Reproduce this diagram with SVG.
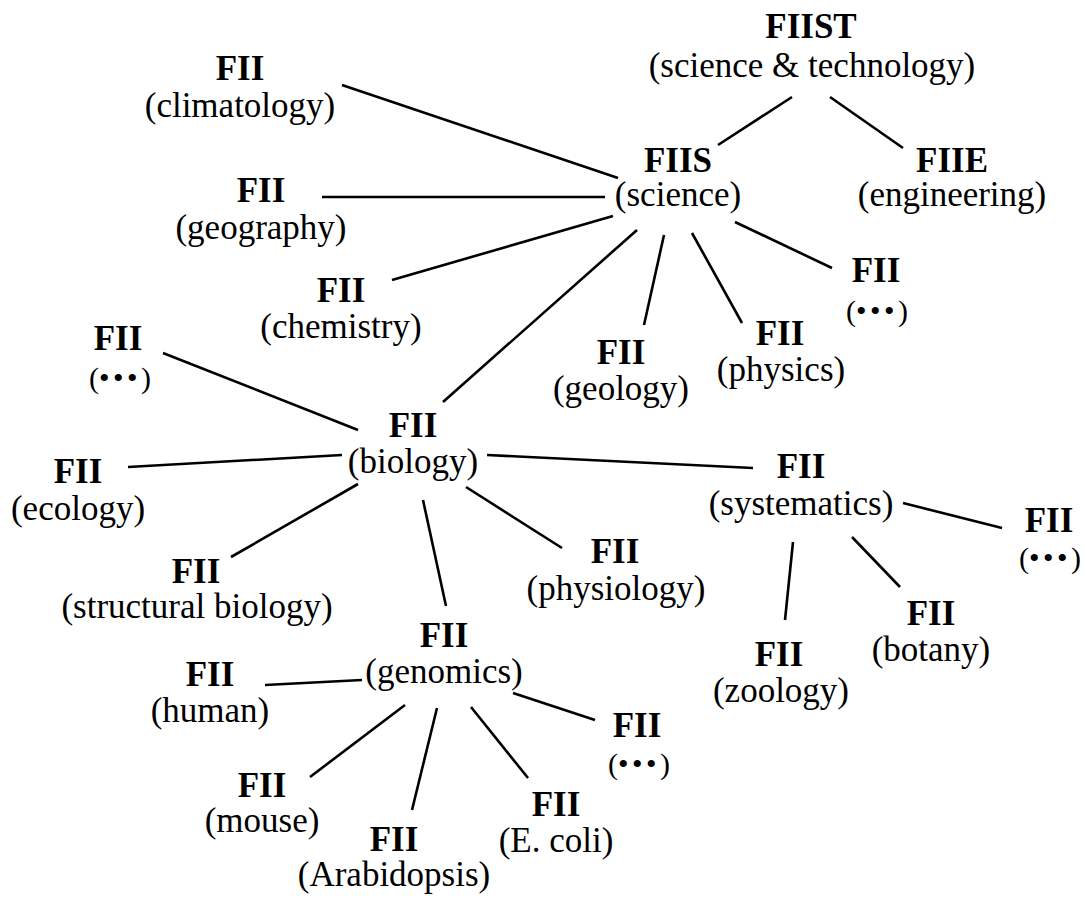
<svg xmlns="http://www.w3.org/2000/svg" width="1086" height="904" viewBox="0 0 1086 904">
<style>
text{font-family:"Liberation Serif","Times New Roman",serif;font-size:35px;fill:#000;text-anchor:middle}
.b{font-weight:bold}
.d{font-size:30px}
.bl{font-size:30px;letter-spacing:3.5px}
.c line{stroke:#000;stroke-width:2.6;stroke-linecap:butt}
</style>
<rect width="1086" height="904" fill="#fff"/>
<g class="c" id="connectors">
<line x1="792" y1="97" x2="718" y2="145"/>
<line x1="830" y1="97" x2="903" y2="148"/>
<line x1="342" y1="85" x2="618" y2="178"/>
<line x1="322" y1="197" x2="605" y2="197"/>
<line x1="392" y1="280" x2="613" y2="216"/>
<line x1="637" y1="230" x2="443" y2="402"/>
<line x1="664" y1="235" x2="644" y2="325"/>
<line x1="692" y1="233" x2="742" y2="323"/>
<line x1="735" y1="222" x2="832" y2="268"/>
<line x1="163" y1="353" x2="358" y2="430"/>
<line x1="128" y1="467" x2="342" y2="455"/>
<line x1="231" y1="557" x2="358" y2="484"/>
<line x1="423" y1="500" x2="446" y2="606"/>
<line x1="466" y1="487" x2="562" y2="548"/>
<line x1="487" y1="455" x2="753" y2="468"/>
<line x1="903" y1="503" x2="1002" y2="528"/>
<line x1="793" y1="542" x2="785" y2="620"/>
<line x1="852" y1="537" x2="900" y2="587"/>
<line x1="265" y1="685" x2="362" y2="680"/>
<line x1="405" y1="705" x2="310" y2="777"/>
<line x1="437" y1="708" x2="412" y2="810"/>
<line x1="471" y1="707" x2="528" y2="778"/>
<line x1="513" y1="693" x2="595" y2="720"/>
</g>
<g id="fiist"><text class="b" x="811" y="38">FIIST</text><text x="812" y="77">(science &amp; technology)</text></g>
<g id="fiis"><text class="b" x="678" y="172">FIIS</text><text x="678" y="206">(science)</text></g>
<g id="fiie"><text class="b" x="952" y="172">FIIE</text><text x="952" y="206">(engineering)</text></g>
<g id="climatology"><text class="b" x="240" y="80">FII</text><text x="240" y="117">(climatology)</text></g>
<g id="geography"><text class="b" x="261" y="202">FII</text><text x="261" y="239">(geography)</text></g>
<g id="chemistry"><text class="b" x="341" y="302">FII</text><text x="341" y="338">(chemistry)</text></g>
<g id="dots-left"><text class="b" x="118" y="350">FII</text><text class="d" x="120" y="388">(<tspan class="bl">•••</tspan>)</text></g>
<g id="geology"><text class="b" x="621" y="364">FII</text><text x="621" y="400">(geology)</text></g>
<g id="physics"><text class="b" x="780" y="345">FII</text><text x="781" y="381">(physics)</text></g>
<g id="dots-science"><text class="b" x="876" y="282">FII</text><text class="d" x="877" y="321">(<tspan class="bl">•••</tspan>)</text></g>
<g id="biology"><text class="b" x="413" y="437">FII</text><text x="413" y="473">(biology)</text></g>
<g id="ecology"><text class="b" x="78" y="483">FII</text><text x="78" y="520">(ecology)</text></g>
<g id="structural"><text class="b" x="196" y="583">FII</text><text x="197" y="618">(structural biology)</text></g>
<g id="physiology"><text class="b" x="615" y="563">FII</text><text x="616" y="600">(physiology)</text></g>
<g id="systematics"><text class="b" x="801" y="478">FII</text><text x="801" y="515">(systematics)</text></g>
<g id="dots-systematics"><text class="b" x="1049" y="532">FII</text><text class="d" x="1050" y="568">(<tspan class="bl">•••</tspan>)</text></g>
<g id="zoology"><text class="b" x="779" y="666">FII</text><text x="781" y="702">(zoology)</text></g>
<g id="botany"><text class="b" x="931" y="625">FII</text><text x="931" y="661">(botany)</text></g>
<g id="genomics"><text class="b" x="444" y="647">FII</text><text x="444" y="683">(genomics)</text></g>
<g id="human"><text class="b" x="210" y="686">FII</text><text x="210" y="722">(human)</text></g>
<g id="mouse"><text class="b" x="262" y="797">FII</text><text x="262" y="832">(mouse)</text></g>
<g id="arabidopsis"><text class="b" x="394" y="851">FII</text><text x="394" y="886">(Arabidopsis)</text></g>
<g id="ecoli"><text class="b" x="556" y="816">FII</text><text x="556" y="852">(E. coli)</text></g>
<g id="dots-genomics"><text class="b" x="637" y="737">FII</text><text class="d" x="639" y="774">(<tspan class="bl">•••</tspan>)</text></g>
</svg>
